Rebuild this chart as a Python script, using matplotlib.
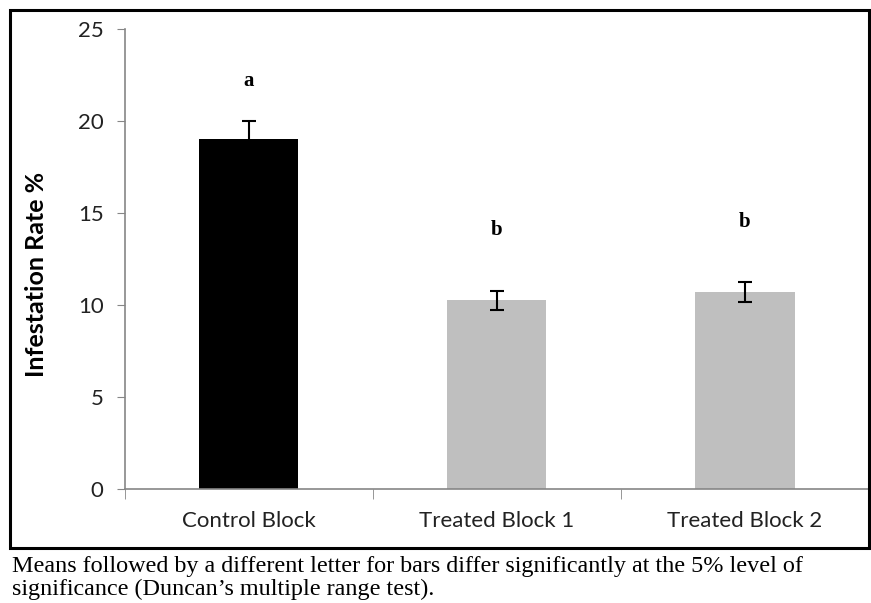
import numpy as np
import matplotlib.pyplot as plt
from matplotlib.patches import Rectangle

#-------------------------------------------------------
categories = ['Control Block', 'Treated Block 1', 'Treated Block 2']
rates = [19.0, 10.25, 10.7]
errors = [1.0, 0.52, 0.55]
letters = ['a', 'b', 'b']
letter_y = [22.2, 14.1, 14.5]
colors = ['#000000', '#bfbfbf', '#bfbfbf']
caption = ('Means followed by a different letter for bars differ significantly at the 5% level of\n'
           'significance (Duncan\u2019s multiple range test).')
#-------------------------------------------------------

W, H = 871, 603
fig = plt.figure(figsize=(W / 100, H / 100), dpi=100)
ax = fig.add_axes([124.5 / W, (H - 489) / H, (869 - 124.5) / W, (489 - 29) / H])

x = np.arange(len(categories))
ax.bar(x, rates, width=0.4, color=colors, zorder=2)
ax.errorbar(x, rates, yerr=errors, fmt='none', ecolor='black',
            elinewidth=1.5, capsize=5, capthick=1.5, zorder=3)

for xi, lab, ly in zip(x, letters, letter_y):
    ax.text(xi, ly, lab, ha='center', va='center', fontsize=15,
            fontweight='bold', family='Liberation Serif')

ax.set_xlim(-0.5, 2.5)
ax.set_ylim(0, 25)
ax.set_yticks([0, 5, 10, 15, 20, 25])
ax.set_xticks(x)
ax.set_xticklabels(categories)
ax.set_xticks([-0.5, 0.5, 1.5, 2.5], minor=True)

for s in ['top', 'right']:
    ax.spines[s].set_visible(False)
for s in ['left', 'bottom']:
    ax.spines[s].set_color('#868686')
    ax.spines[s].set_linewidth(1.2)

ax.tick_params(axis='y', direction='out', length=6, color='#868686',
               labelsize=16, pad=9)
ax.tick_params(axis='x', which='major', length=0, labelsize=16, pad=16)
ax.tick_params(axis='x', which='minor', direction='out', length=7, color='#868686')
for t in ax.get_xticklabels() + ax.get_yticklabels():
    t.set_family('Lato')
    t.set_color('#222222')

fig.text(37 / W, 1 - 274 / H, 'Infestation Rate %', rotation=90, ha='center',
         va='center', fontsize=18, fontweight='bold', family='Lato')

fig.patches.append(Rectangle((10 / W, 1 - 548 / H), 859 / W, 538 / H,
                             transform=fig.transFigure, fill=False,
                             edgecolor='black', linewidth=2.2))

fig.text(12 / W, 1 - 556 / H, caption, ha='left', va='top', fontsize=17.4,
         family='Liberation Serif', linespacing=1.12)

fig.savefig('out.png', dpi=100)
